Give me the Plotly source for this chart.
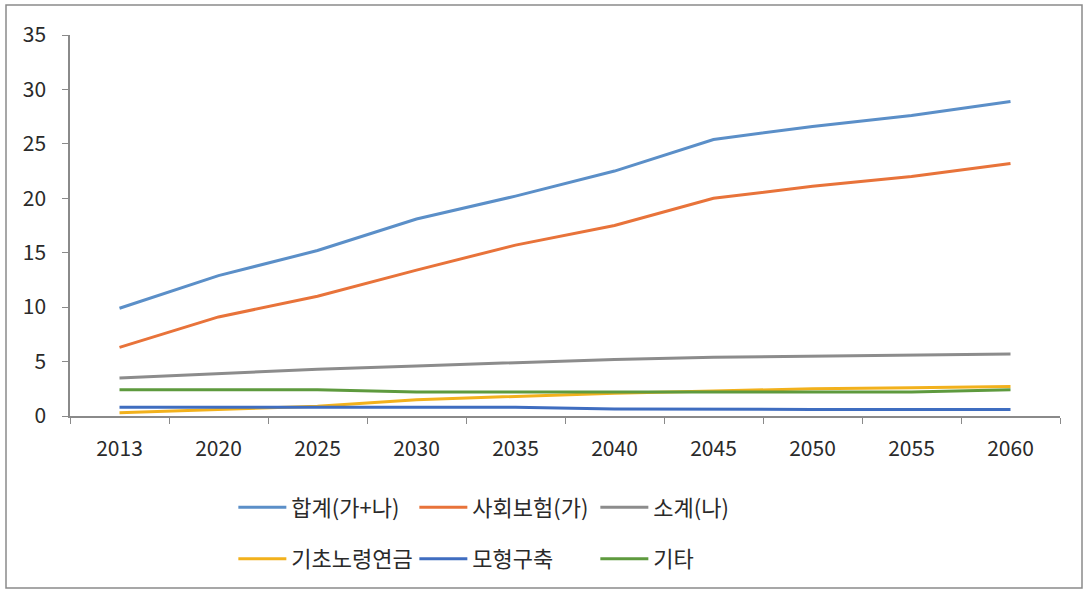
import plotly.graph_objects as go

years = ["2013", "2020", "2025", "2030", "2035", "2040", "2045", "2050", "2055", "2060"]

total = [9.9, 12.9, 15.2, 18.1, 20.2, 22.5, 25.4, 26.6, 27.6, 28.9]
social_insurance = [6.3, 9.1, 11.0, 13.4, 15.7, 17.5, 20.0, 21.1, 22.0, 23.2]
subtotal = [3.5, 3.9, 4.3, 4.6, 4.9, 5.2, 5.4, 5.5, 5.6, 5.7]
basic_pension = [0.3, 0.6, 0.9, 1.5, 1.8, 2.1, 2.3, 2.5, 2.6, 2.7]
modeling = [0.8, 0.8, 0.8, 0.8, 0.8, 0.65, 0.6, 0.6, 0.6, 0.6]
other = [2.4, 2.4, 2.4, 2.2, 2.2, 2.2, 2.2, 2.2, 2.2, 2.4]

y_ticks = [0, 5, 10, 15, 20, 25, 30, 35]

series = [
    ("합계(가+나)", total, "#5B8FC8", "legend"),
    ("사회보험(가)", social_insurance, "#E8733A", "legend"),
    ("소계(나)", subtotal, "#8C8C8C", "legend"),
    ("기초노령연금", basic_pension, "#F2B11C", "legend2"),
    ("모형구축", modeling, "#3F6DC0", "legend2"),
    ("기타", other, "#5E9A3E", "legend2"),
]

FONT = "Noto Sans CJK KR, Malgun Gothic, sans-serif"
TEXT = "#2a2a2a"

fig = go.Figure()
for name, vals, color, leg in series:
    fig.add_trace(go.Scatter(
        x=years, y=vals, name=name, mode="lines",
        line=dict(color=color, width=3),
        legend=leg,
    ))

legend_common = dict(
    orientation="h", xanchor="left", yanchor="top",
    entrywidth=118, entrywidthmode="pixels",
    font=dict(family=FONT, size=22, color=TEXT),
    itemwidth=48, tracegroupgap=0,
)

fig.update_layout(
    width=1086, height=592,
    margin=dict(l=70, r=26, t=35, b=176),
    paper_bgcolor="white", plot_bgcolor="white",
    font=dict(family=FONT, size=21, color=TEXT),
    showlegend=True,
    legend=dict(x=0.165, y=-0.185, **legend_common),
    legend2=dict(x=0.165, y=-0.32, **legend_common),
    xaxis=dict(
        type="category", range=[-0.5, 9.5],
        showline=True, linecolor="#8A8A8A", linewidth=1.5,
        ticks="outside", ticklen=6, tickcolor="#8A8A8A",
        tickson="boundaries", showgrid=False, zeroline=False,
        ticklabelstandoff=13,
        tickfont=dict(family=FONT, size=21, color=TEXT),
    ),
    yaxis=dict(
        range=[0, 35], tickvals=y_ticks,
        showline=True, linecolor="#8A8A8A", linewidth=1.5,
        ticks="outside", ticklen=6, tickcolor="#8A8A8A",
        showgrid=False, zeroline=False,
        ticklabelstandoff=12,
        tickfont=dict(family=FONT, size=21, color=TEXT),
    ),
    shapes=[dict(
        type="rect", xref="paper", yref="paper",
        x0=-64 / 990, x1=1 + 22 / 990, y0=-172 / 381, y1=1 + 30 / 381,
        line=dict(color="#8A8A8A", width=1.5),
    )],
)

fig.write_html("out.html")
